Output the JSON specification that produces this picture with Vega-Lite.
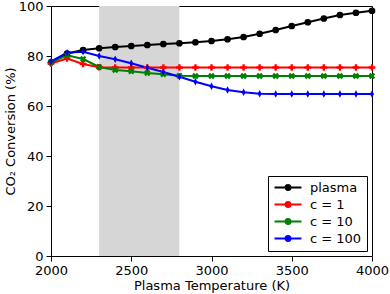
{
  "$schema": "https://vega.github.io/schema/vega-lite/v6.json",
  "width": 321,
  "height": 250,
  "autosize": {"type": "none"},
  "padding": {"left": 51, "top": 6, "right": 18, "bottom": 38},
  "background": "white",
  "config": {
    "font": "DejaVu Sans",
    "view": {"stroke": "black", "strokeWidth": 1},
    "axis": {
      "grid": false,
      "domain": false,
      "tickColor": "black",
      "tickSize": 5,
      "tickWidth": 1,
      "labelColor": "black",
      "labelFontSize": 13,
      "labelFont": "DejaVu Sans",
      "labelFlush": false,
      "labelPadding": 3,
      "titleColor": "black",
      "titleFontSize": 13,
      "titleFont": "DejaVu Sans",
      "titleFontWeight": "normal"
    },
    "legend": {
      "symbolType": "M-1,0H4.4M1.2,0A0.5,0.5 0 1,1 2.2,0A0.5,0.5 0 1,1 1.2,0Z",
      "symbolSize": 100,
      "symbolStrokeWidth": 2
    }
  },
  "datasets": {
    "curves": [
      {"T": 2000, "v": 77.5, "series": "plasma"},
      {"T": 2100, "v": 81.0, "series": "plasma"},
      {"T": 2200, "v": 82.4, "series": "plasma"},
      {"T": 2300, "v": 83.1, "series": "plasma"},
      {"T": 2400, "v": 83.6, "series": "plasma"},
      {"T": 2500, "v": 84.0, "series": "plasma"},
      {"T": 2600, "v": 84.4, "series": "plasma"},
      {"T": 2700, "v": 84.8, "series": "plasma"},
      {"T": 2800, "v": 85.1, "series": "plasma"},
      {"T": 2900, "v": 85.5, "series": "plasma"},
      {"T": 3000, "v": 86.0, "series": "plasma"},
      {"T": 3100, "v": 86.7, "series": "plasma"},
      {"T": 3200, "v": 87.6, "series": "plasma"},
      {"T": 3300, "v": 88.9, "series": "plasma"},
      {"T": 3400, "v": 90.4, "series": "plasma"},
      {"T": 3500, "v": 92.0, "series": "plasma"},
      {"T": 3600, "v": 93.5, "series": "plasma"},
      {"T": 3700, "v": 95.0, "series": "plasma"},
      {"T": 3800, "v": 96.4, "series": "plasma"},
      {"T": 3900, "v": 97.3, "series": "plasma"},
      {"T": 4000, "v": 98.1, "series": "plasma"},
      {"T": 2000, "v": 77.0, "series": "c = 1"},
      {"T": 2100, "v": 79.0, "series": "c = 1"},
      {"T": 2200, "v": 76.8, "series": "c = 1"},
      {"T": 2300, "v": 75.5, "series": "c = 1"},
      {"T": 2400, "v": 75.4, "series": "c = 1"},
      {"T": 2500, "v": 75.4, "series": "c = 1"},
      {"T": 2600, "v": 75.4, "series": "c = 1"},
      {"T": 2700, "v": 75.4, "series": "c = 1"},
      {"T": 2800, "v": 75.4, "series": "c = 1"},
      {"T": 2900, "v": 75.4, "series": "c = 1"},
      {"T": 3000, "v": 75.4, "series": "c = 1"},
      {"T": 3100, "v": 75.4, "series": "c = 1"},
      {"T": 3200, "v": 75.4, "series": "c = 1"},
      {"T": 3300, "v": 75.4, "series": "c = 1"},
      {"T": 3400, "v": 75.4, "series": "c = 1"},
      {"T": 3500, "v": 75.4, "series": "c = 1"},
      {"T": 3600, "v": 75.4, "series": "c = 1"},
      {"T": 3700, "v": 75.4, "series": "c = 1"},
      {"T": 3800, "v": 75.4, "series": "c = 1"},
      {"T": 3900, "v": 75.4, "series": "c = 1"},
      {"T": 4000, "v": 75.4, "series": "c = 1"},
      {"T": 2000, "v": 77.5, "series": "c = 10"},
      {"T": 2100, "v": 80.3, "series": "c = 10"},
      {"T": 2200, "v": 78.8, "series": "c = 10"},
      {"T": 2300, "v": 75.6, "series": "c = 10"},
      {"T": 2400, "v": 74.4, "series": "c = 10"},
      {"T": 2500, "v": 73.9, "series": "c = 10"},
      {"T": 2600, "v": 73.2, "series": "c = 10"},
      {"T": 2700, "v": 72.7, "series": "c = 10"},
      {"T": 2800, "v": 72.1, "series": "c = 10"},
      {"T": 2900, "v": 72.0, "series": "c = 10"},
      {"T": 3000, "v": 72.0, "series": "c = 10"},
      {"T": 3100, "v": 72.0, "series": "c = 10"},
      {"T": 3200, "v": 72.0, "series": "c = 10"},
      {"T": 3300, "v": 72.0, "series": "c = 10"},
      {"T": 3400, "v": 72.0, "series": "c = 10"},
      {"T": 3500, "v": 72.0, "series": "c = 10"},
      {"T": 3600, "v": 72.0, "series": "c = 10"},
      {"T": 3700, "v": 72.0, "series": "c = 10"},
      {"T": 3800, "v": 72.0, "series": "c = 10"},
      {"T": 3900, "v": 72.0, "series": "c = 10"},
      {"T": 4000, "v": 72.0, "series": "c = 10"},
      {"T": 2000, "v": 77.8, "series": "c = 100"},
      {"T": 2100, "v": 81.3, "series": "c = 100"},
      {"T": 2200, "v": 81.7, "series": "c = 100"},
      {"T": 2300, "v": 80.0, "series": "c = 100"},
      {"T": 2400, "v": 78.7, "series": "c = 100"},
      {"T": 2500, "v": 77.1, "series": "c = 100"},
      {"T": 2600, "v": 75.3, "series": "c = 100"},
      {"T": 2700, "v": 73.6, "series": "c = 100"},
      {"T": 2800, "v": 71.7, "series": "c = 100"},
      {"T": 2900, "v": 69.7, "series": "c = 100"},
      {"T": 3000, "v": 67.9, "series": "c = 100"},
      {"T": 3100, "v": 66.4, "series": "c = 100"},
      {"T": 3200, "v": 65.5, "series": "c = 100"},
      {"T": 3300, "v": 64.9, "series": "c = 100"},
      {"T": 3400, "v": 64.8, "series": "c = 100"},
      {"T": 3500, "v": 64.8, "series": "c = 100"},
      {"T": 3600, "v": 64.8, "series": "c = 100"},
      {"T": 3700, "v": 64.8, "series": "c = 100"},
      {"T": 3800, "v": 64.8, "series": "c = 100"},
      {"T": 3900, "v": 64.8, "series": "c = 100"},
      {"T": 4000, "v": 64.8, "series": "c = 100"}
    ]
  },
  "layer": [
    {
      "data": {"values": [{"start": 2300, "end": 2800}]},
      "mark": {"type": "rect", "color": "#d6d6d6"},
      "encoding": {
        "x": {"field": "start", "type": "quantitative", "scale": {"domain": [2000, 4000], "nice": false}},
        "x2": {"field": "end"}
      }
    },
    {
      "data": {"name": "curves"},
      "mark": {"type": "line", "strokeWidth": 2},
      "encoding": {
        "x": {
          "field": "T", "type": "quantitative",
          "scale": {"domain": [2000, 4000], "nice": false},
          "axis": {"values": [2000, 2500, 3000, 3500, 4000], "format": "d", "title": "Plasma Temperature (K)", "titlePadding": 2}
        },
        "y": {
          "field": "v", "type": "quantitative",
          "scale": {"domain": [0, 100], "nice": false},
          "axis": {"values": [0, 20, 40, 60, 80, 100], "format": "d", "title": "CO₂ Conversion (%)", "titlePadding": 1}
        },
        "color": {
          "field": "series", "type": "nominal",
          "scale": {"domain": ["plasma", "c = 1", "c = 10", "c = 100"], "range": ["black", "#ff0000", "#008000", "#0000ff"]},
          "sort": ["plasma", "c = 1", "c = 10", "c = 100"],
          "legend": {
            "title": null,
            "orient": "bottom-right",
            "offset": 5,
            "strokeColor": "black",
            "fillColor": "white",
            "padding": 5,
            "cornerRadius": 0,
            "labelFontSize": 13,
            "labelFont": "DejaVu Sans",
            "labelColor": "black",
            "labelOffset": 24,
            "rowPadding": 3,
            "symbolSize": 100,
            "symbolStrokeWidth": 2,
            "symbolType": "M-1,0H4.4M1.2,0A0.5,0.5 0 1,1 2.2,0A0.5,0.5 0 1,1 1.2,0Z",
            "encode": {
              "symbols": {
                "update": {
                  "fill": {"scale": "color", "field": "value"},
                  "stroke": {"scale": "color", "field": "value"},
                  "opacity": {"value": 1}
                }
              }
            }
          }
        },
        "detail": {"field": "series"}
      }
    },
    {
      "data": {"name": "curves"},
      "transform": [{"filter": "datum.series === 'plasma'"}],
      "mark": {"type": "point", "filled": true, "size": 45, "opacity": 1, "shape": "circle"},
      "encoding": {
        "x": {"field": "T", "type": "quantitative"},
        "y": {"field": "v", "type": "quantitative"},
        "color": {"field": "series", "type": "nominal"}
      }
    },
    {
      "data": {"name": "curves"},
      "transform": [{"filter": "datum.series === 'c = 1'"}],
      "mark": {"type": "point", "filled": true, "size": 45, "opacity": 1, "shape": "M-0.35,-1H0.35V-0.35H1V0.35H0.35V1H-0.35V0.35H-1V-0.35H-0.35Z"},
      "encoding": {
        "x": {"field": "T", "type": "quantitative"},
        "y": {"field": "v", "type": "quantitative"},
        "color": {"field": "series", "type": "nominal"}
      }
    },
    {
      "data": {"name": "curves"},
      "transform": [{"filter": "datum.series === 'c = 10'"}],
      "mark": {"type": "point", "filled": true, "size": 45, "opacity": 1, "shape": "M0.46,-0.955L0.955,-0.46L0.495,0L0.955,0.46L0.46,0.955L0,0.495L-0.46,0.955L-0.955,0.46L-0.495,0L-0.955,-0.46L-0.46,-0.955L0,-0.495Z"},
      "encoding": {
        "x": {"field": "T", "type": "quantitative"},
        "y": {"field": "v", "type": "quantitative"},
        "color": {"field": "series", "type": "nominal"}
      }
    },
    {
      "data": {"name": "curves"},
      "transform": [{"filter": "datum.series === 'c = 100'"}],
      "mark": {"type": "point", "filled": true, "size": 45, "opacity": 1, "shape": "M0,-1.1L0.6,0L0,1.1L-0.6,0Z"},
      "encoding": {
        "x": {"field": "T", "type": "quantitative"},
        "y": {"field": "v", "type": "quantitative"},
        "color": {"field": "series", "type": "nominal"}
      }
    }
  ]
}
